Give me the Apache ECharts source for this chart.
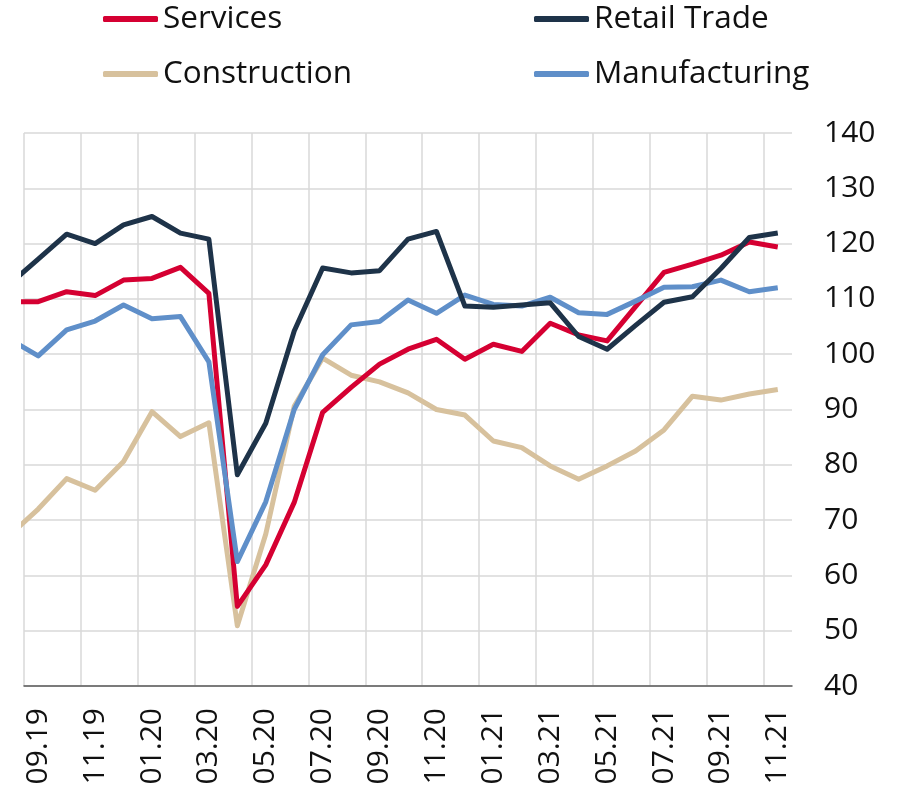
<!doctype html>
<html lang="en">
<head>
    <meta charset="UTF-8">
    <title>Sector indices</title>
    <script src="https://cdn.jsdelivr.net/npm/echarts@6/dist/echarts.min.js"></script>
    <style>
        html, body { margin: 0; padding: 0; background: #fff; }
        #chart { width: 920px; height: 793px; }
    </style>
</head>
<body>
<div id="chart"></div>
<script type="text/javascript">
    // months, first one (08.19) sits just left of the plot and gets clipped
    var months = ['08.19', '09.19', '10.19', '11.19', '12.19', '01.20', '02.20', '03.20', '04.20', '05.20',
        '06.20', '07.20', '08.20', '09.20', '10.20', '11.20', '12.20', '01.21', '02.21', '03.21',
        '04.21', '05.21', '06.21', '07.21', '08.21', '09.21', '10.21', '11.21'];
    var services = [109.5, 109.5, 111.3, 110.6, 113.4, 113.7, 115.7, 111.0, 54.4, 61.9,
        73.2, 89.5, 94.0, 98.2, 100.9, 102.7, 99.1, 101.8, 100.5, 105.6,
        103.5, 102.4, 108.6, 114.8, 116.3, 117.9, 120.3, 119.4];
    var retailTrade = [112.7, 117.2, 121.7, 120.0, 123.4, 124.9, 121.9, 120.8, 78.2, 87.5,
        104.2, 115.6, 114.7, 115.1, 120.8, 122.2, 108.7, 108.5, 108.9, 109.3,
        103.2, 100.9, 105.2, 109.4, 110.4, 115.5, 121.1, 121.9];
    var construction = [67.3, 72.0, 77.5, 75.4, 80.6, 89.6, 85.1, 87.6, 50.9, 67.5,
        90.6, 99.3, 96.2, 95.0, 93.0, 90.0, 89.0, 84.3, 83.1, 79.8,
        77.4, 79.8, 82.5, 86.3, 92.4, 91.7, 92.8, 93.6];
    var manufacturing = [102.7, 99.7, 104.4, 106.0, 108.9, 106.4, 106.8, 98.6, 62.5, 73.3,
        90.0, 99.9, 105.3, 105.9, 109.8, 107.4, 110.7, 109.0, 108.7, 110.3,
        107.5, 107.2, 109.6, 112.1, 112.2, 113.4, 111.3, 112.0];
    var yTicks = {min: 40, max: 140, step: 10};

    var fontName = '"Open Sans", "Noto Sans", sans-serif';

    // x position of month i: band centre on a 0..27 value axis
    var toPoints = function (arr) {
        var out = [];
        arr.forEach(function (v, i) {
            out.push([i - 0.5, v]);
        });
        return out;
    };

    var mkLegend = function (name, left, top) {
        return {
            data: [name],
            left: left,
            top: top,
            icon: 'roundRect',
            itemWidth: 55,
            itemHeight: 6,
            padding: 0,
            textStyle: {fontFamily: fontName, fontSize: 31.5, color: '#111'}
        };
    };

    var mkLine = function (name, data, color, z) {
        return {
            name: name,
            type: 'line',
            xAxisIndex: 0,
            yAxisIndex: 0,
            data: toPoints(data),
            symbol: 'none',
            clip: true,
            z: z,
            color: color,
            lineStyle: {width: 5, color: color, join: 'round', cap: 'butt'},
            animation: false
        };
    };

    var myChart = echarts.init(document.getElementById('chart'), null, {renderer: 'canvas'});
    var option = {
        backgroundColor: '#fff',
        animation: false,
        legend: [
            mkLegend('Services', 103, 3),
            mkLegend('Retail Trade', 534, 3),
            mkLegend('Construction', 103, 58),
            mkLegend('Manufacturing', 534, 58)
        ],
        grid: {left: 24, right: 128, top: 133, bottom: 107, containLabel: false, outerBoundsMode: 'none'},
        xAxis: [{
            type: 'value',
            min: 0,
            max: 27,
            interval: 2,
            position: 'bottom',
            axisLine: {show: false},
            axisTick: {show: false},
            axisLabel: {show: false},
            splitLine: {show: true, showMaxLine: false, lineStyle: {color: '#d9d9d9', width: 1.5}}
        }, {
            // month labels
            type: 'category',
            position: 'bottom',
            boundaryGap: true,
            data: months.slice(1),
            axisLine: {show: true, lineStyle: {color: '#595959', width: 1.5}},
            axisTick: {show: false},
            splitLine: {show: false},
            axisLabel: {
                interval: 1,
                rotate: 90,
                margin: 22,
                fontFamily: fontName,
                fontSize: 30,
                color: '#111'
            }
        }],
        yAxis: {
            type: 'value',
            position: 'right',
            min: yTicks.min,
            max: yTicks.max,
            interval: yTicks.step,
            axisLine: {show: false},
            axisTick: {show: false},
            axisLabel: {margin: 32, fontFamily: fontName, fontSize: 30, color: '#111'},
            splitLine: {show: true, lineStyle: {color: '#d9d9d9', width: 1.5}}
        },
        series: [
            mkLine('Construction', construction, '#d7c19d', 2),
            mkLine('Services', services, '#d50032', 3),
            mkLine('Manufacturing', manufacturing, '#5f8fc9', 4),
            mkLine('Retail Trade', retailTrade, '#1e3349', 5)
        ]
    };
    myChart.setOption(option);
</script>
</body>
</html>
